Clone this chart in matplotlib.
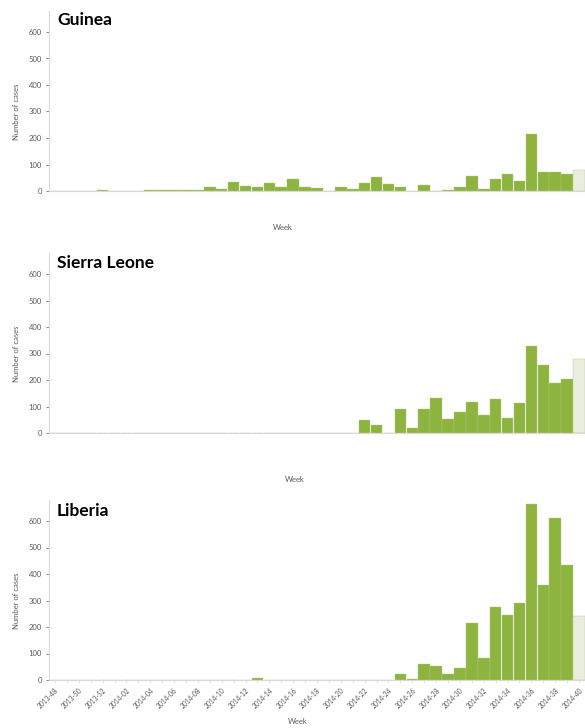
import matplotlib
matplotlib.use("Agg")
import matplotlib.pyplot as plt

# week categories 2013-48 .. 2014-40 (last week is incomplete)
weeks = ["2013-%02d" % w for w in range(48, 53)] + ["2014-%02d" % w for w in range(1, 41)]

guinea = [0, 0, 0, 1, 2, 0, 0, 1, 2, 3, 2, 4, 5, 14, 6, 33, 20, 16, 29, 16,
          44, 16, 12, 0, 15, 9, 31, 51, 26, 16, 0, 21, 0, 2, 14, 58, 8, 45, 63, 38,
          214, 71, 71, 65, 81]
sierra_leone = [0, 0, 0, 0, 0, 0, 0, 0, 0, 0, 0, 0, 0, 0, 0, 0, 0, 0, 0, 0,
                0, 0, 0, 0, 0, 0, 48, 30, 0, 91, 18, 91, 132, 54, 78, 117, 67, 127, 58, 113,
                328, 255, 189, 205, 280]
liberia = [0, 0, 0, 0, 0, 0, 0, 0, 0, 0, 0, 0, 0, 0, 0, 0, 0, 6, 0, 0,
           0, 0, 0, 0, 0, 0, 0, 0, 0, 23, 5, 61, 53, 22, 47, 215, 82, 276, 244, 291,
           665, 358, 610, 433, 240]

countries = ["Guinea", "Sierra Leone", "Liberia"]
series = [guinea, sierra_leone, liberia]

green = "#8cb43f"
light = "#e9ecdf"
grey = "#595959"

W, H = 585, 728
fig = plt.figure(figsize=(W / 100, H / 100), dpi=100)
plt.rcParams["font.family"] = ["Lato", "DejaVu Sans"]

# pixel layout: (zero line y, title y, week label y, week label x)
layout = [(191, 20, 228, 283), (433, 263, 480, 295), (680, 511, 722, 298)]
left_px, right_px = 49, 585
ymax = 680

for k, (name, vals) in enumerate(zip(countries, series)):
    zero_y, title_y, week_y, week_x = layout[k]
    h_px = ymax * 0.265
    ax = fig.add_axes([left_px / W, 1 - zero_y / H, (right_px - left_px) / W, h_px / H])
    x = list(range(len(weeks)))
    colors = [green] * (len(weeks) - 1) + [light]
    ax.bar(x, vals, width=0.97, color=colors, edgecolor="#b5cc85", linewidth=0.3)
    ax.set_xlim(-0.5, len(weeks) - 0.5)
    ax.set_ylim(0, ymax)
    ax.set_yticks(range(0, 700, 100))
    ax.tick_params(axis="y", labelsize=5.5, colors=grey, length=2, width=0.5, pad=3)
    for s in ["top", "right"]:
        ax.spines[s].set_visible(False)
    for s in ["left", "bottom"]:
        ax.spines[s].set_color("#d9d9d9")
        ax.spines[s].set_linewidth(0.8)
    ax.set_ylabel("Number of cases", fontsize=5.5, color=grey, labelpad=4)
    ax.yaxis.set_label_coords(-0.055, 300 / ymax)
    if k == 2:
        ax.set_xticks(x[::2])
        ax.set_xticklabels(weeks[::2], rotation=45, ha="right", fontsize=4.8,
                           color=grey, rotation_mode="anchor")
        ax.set_xticks(x, minor=True)
        ax.tick_params(axis="x", which="both", length=2, width=0.5, colors="#d9d9d9",
                       labelcolor=grey, pad=3)
    else:
        ax.set_xticks([])
    fig.text(57 / W, 1 - title_y / H, name, fontsize=12.5, fontweight="bold",
             ha="left", va="center", color="black")
    fig.text(week_x / W, 1 - week_y / H, "Week", fontsize=5.5, color=grey,
             ha="center", va="center")

fig.savefig("out.png", dpi=100)
